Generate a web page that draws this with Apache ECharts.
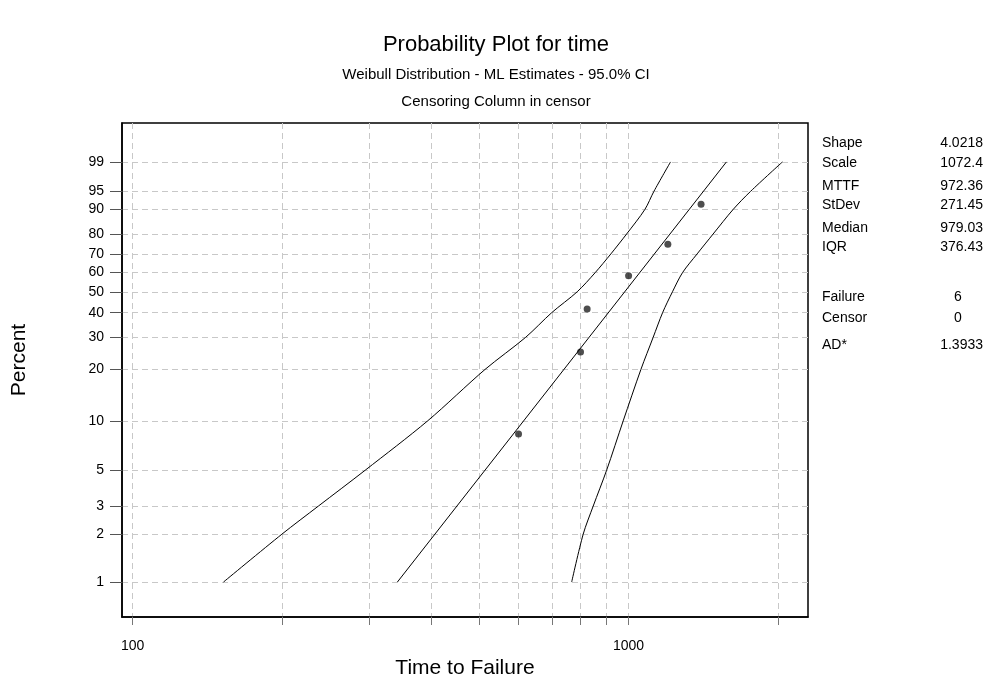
<!DOCTYPE html>
<html>
<head>
<meta charset="utf-8">
<script src="https://cdn.jsdelivr.net/npm/echarts@6/dist/echarts.min.js"></script>
<style>
html,body{margin:0;padding:0;background:#fff;}
#main{width:992px;height:684px;}
</style>
</head>
<body>
<div id="main"></div>
<script>
// ---- data ----
const percentTicks = [1, 2, 3, 5, 10, 20, 30, 40, 50, 60, 70, 80, 90, 95, 99];
const timeTicks = [100, 200, 300, 400, 500, 600, 700, 800, 900, 1000, 2000];
const timeLabels = [100, 1000];

const failTimes = [600, 800, 825, 1000, 1200, 1400];
const failPercents = [8.33, 25, 41.67, 58.33, 75, 91.67];

const fitTimes = [341.9, 1575];
const fitPercents = [1, 99];

const ciPercents = [1, 2, 3, 5, 10, 20, 30, 40, 50, 60, 70, 80, 90, 95, 99];
const lowerCITimes = [152.5, 200, 237, 294.3, 393.3, 513.4, 620.1, 699.7, 787.8, 856.4, 921, 990.8, 1078.5, 1124.6, 1215];
const upperCITimes = [767.8, 810, 848.6, 903, 975.2, 1058.8, 1120.9, 1171, 1226, 1284.5, 1374.6, 1480.6, 1624.7, 1761.3, 2042.6];

const statNames = ['Shape', 'Scale', 'MTTF', 'StDev', 'Median', 'IQR', 'Failure', 'Censor', 'AD*'];
const statValues = ['4.0218', '1072.4', '972.36', '271.45', '979.03', '376.43', '6', '0', '1.3933'];

// ---- Weibull probability scale ----
const wb = p => Math.log(-Math.log(1 - p / 100));
const wbInv = v => 100 * (1 - Math.exp(-Math.exp(v)));

const FONT = '"Liberation Sans", Arial, sans-serif';

const chart = echarts.init(document.getElementById('main'), null, {renderer: 'canvas'});

const statY = [143, 163, 186, 205, 228, 247, 297, 318, 345];
const graphics = [];
statNames.forEach((n, i) => {
  graphics.push({type: 'text', x: 822, y: statY[i],
    style: {text: n, font: '14px ' + FONT, fill: '#000', textVerticalAlign: 'middle'}});
  const centered = (n === 'Failure' || n === 'Censor');
  graphics.push({type: 'text', x: centered ? 958 : 983, y: statY[i],
    style: {text: statValues[i], font: '14px ' + FONT, fill: '#000', textAlign: centered ? 'center' : 'right', textVerticalAlign: 'middle'}});
});

const lineStyle = {color: '#000', width: 1};

chart.setOption({
  animation: false,
  backgroundColor: '#fff',
  textStyle: {fontFamily: FONT},
  title: [
    {text: 'Probability Plot for time', left: 'center', top: 29,
     textStyle: {fontSize: 22, fontWeight: 'normal', color: '#000', fontFamily: FONT}},
    {text: 'Weibull Distribution - ML Estimates - 95.0% CI', left: 'center', top: 62,
     textStyle: {fontSize: 15, fontWeight: 'normal', color: '#000', fontFamily: FONT}},
    {text: 'Censoring Column in censor', left: 'center', top: 89,
     textStyle: {fontSize: 15, fontWeight: 'normal', color: '#000', fontFamily: FONT}}
  ],
  grid: {left: 122, top: 123, right: 184, bottom: 67, outerBoundsMode: 'none', containLabel: false,
    show: true, borderColor: '#000', borderWidth: 1.5, backgroundColor: 'transparent'},
  xAxis: {
    type: 'log', logBase: 10, min: 95.2, max: 2300,
    name: 'Time to Failure', nameLocation: 'middle', nameGap: 40,
    nameTextStyle: {fontSize: 21, color: '#000', fontFamily: FONT},
    axisLine: {show: true, onZero: false, lineStyle: {color: '#000', width: 1.5}},
    axisTick: {show: true, customValues: timeTicks, length: 8, lineStyle: {color: '#777'}},
    axisLabel: {customValues: timeLabels, margin: 22, fontSize: 14, color: '#000',
      formatter: v => String(Math.round(v))},
    splitLine: {show: true, lineStyle: {color: '#c8c8c8', type: [6, 4], width: 1}},
    minorTick: {show: false}
  },
  yAxis: {
    type: 'value', min: -5.11, max: 2.095,
    name: 'Percent', nameLocation: 'middle', nameGap: 92,
    nameTextStyle: {fontSize: 21, color: '#000', fontFamily: FONT, padding: [0, 0, 0, 20]},
    axisLine: {show: true, onZero: false, lineStyle: {color: '#000', width: 1.5}},
    axisTick: {show: true, customValues: percentTicks.map(wb), length: 12, lineStyle: {color: '#555'}},
    axisLabel: {customValues: percentTicks.map(wb), margin: 18, fontSize: 14, color: '#000',
      formatter: v => String(Math.round(wbInv(v)))},
    splitLine: {show: true, lineStyle: {color: '#c8c8c8', type: [6, 4], width: 1}}
  },
  graphic: graphics,
  series: [
    {type: 'line', name: 'lowerCI', data: lowerCITimes.map((t, i) => [t, wb(ciPercents[i])]),
     showSymbol: false, smooth: 0.3, lineStyle: lineStyle, silent: true},
    {type: 'line', name: 'upperCI', data: upperCITimes.map((t, i) => [t, wb(ciPercents[i])]),
     showSymbol: false, smooth: 0.3, lineStyle: lineStyle, silent: true},
    {type: 'line', name: 'fit', data: fitTimes.map((t, i) => [t, wb(fitPercents[i])]),
     showSymbol: false, lineStyle: lineStyle, silent: true},
    {type: 'scatter', name: 'data', data: failTimes.map((t, i) => [t, wb(failPercents[i])]),
     symbol: 'circle', symbolSize: 7, itemStyle: {color: '#222'}}
  ]
});
</script>
</body>
</html>
